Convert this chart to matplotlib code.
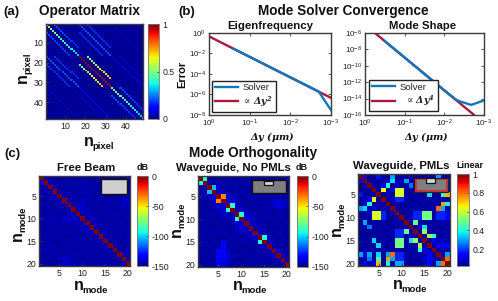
import numpy as np
import matplotlib
matplotlib.use("Agg")
import matplotlib.pyplot as plt
from matplotlib.patches import Rectangle

plt.rcParams['font.family'] = ['Liberation Sans', 'DejaVu Sans']
plt.rcParams['mathtext.fontset'] = 'custom'
plt.rcParams['mathtext.rm'] = 'Liberation Sans'
plt.rcParams['mathtext.bf'] = 'Liberation Sans:bold'
plt.rcParams['mathtext.it'] = 'Liberation Sans:italic'
plt.rcParams['axes.unicode_minus'] = False

W, H = 498, 301
DARK = '#3a3a3a'
BLUE = '#0e76bd'
RED = '#a8193a'

# (a) operator matrix: diagonal bands as (offset, first row, last row, first value, last value)
n_pixel = 48
op_bands = [
    (0, 1, 16, 0.55, 0.32),
    (0, 17, 32, 1.00, 0.95),
    (0, 33, 48, 0.55, 0.30),
    (4, 17, 28, 0.48, 0.72),
    (-4, 21, 32, 0.48, 0.72),
    (4, 1, 12, 0.20, 0.17),
    (-4, 5, 16, 0.20, 0.17),
    (4, 33, 44, 0.20, 0.17),
    (-4, 37, 48, 0.20, 0.17),
    (16, 1, 16, 0.20, 0.20),
    (-16, 17, 32, 0.20, 0.20),
    (20, 1, 12, 0.17, 0.17),
    (-20, 21, 32, 0.17, 0.17),
    (12, 5, 16, 0.17, 0.17),
    (-12, 17, 28, 0.17, 0.17),
    (16, 17, 32, 0.08, 0.08),
    (-16, 33, 48, 0.08, 0.08),
    (20, 17, 28, 0.06, 0.06),
    (-20, 37, 48, 0.06, 0.06),
    (32, 1, 16, 0.05, 0.05),
    (-32, 33, 48, 0.05, 0.05),
]

# (b) convergence curves
ef_ref_dy = [1, 1e-3]
ef_ref_err = [0.47, 4.7e-7]
ef_dy = [0.25, 0.1, 0.05, 0.025, 0.01, 0.005, 0.002, 0.001]
ef_err = [0.029, 4.7e-3, 1.18e-3, 2.9e-4, 4.7e-5, 1.2e-5, 1.9e-6, 3e-8]

ms_ref_dy = [0.56, 0.00182]
ms_ref_err = [1e-6, 1.1e-16]
ms_dy = [0.316, 0.1, 0.05, 0.025, 0.01, 0.005, 0.004, 0.0021, 0.001]
ms_err = [1e-7, 1e-9, 6.25e-11, 3.9e-12, 1e-13, 7e-15, 4.5e-15, 1.7e-15, 6e-15]

# (c) mode orthogonality
free_beam_bg = [
    [0, -142, -145, -144, -146, -145, -144, -146, -145, -144, -145, -146, -145, -144, -146, -145, -144, -146, -145, -144],
    [-142, 0, -144, -143, -145, -146, -143, -145, -143, -145, -144, -145, -146, -145, -144, -146, -143, -145, -146, -145],
    [-145, -144, 0, -144, -146, -143, -146, -144, -146, -143, -145, -146, -144, -146, -145, -143, -146, -144, -145, -146],
    [-144, -143, -144, 0, -143, -145, -144, -146, -144, -142, -144, -143, -145, -144, -146, -145, -144, -143, -145, -144],
    [-146, -145, -146, -143, 0, -144, -146, -143, -145, -146, -143, -145, -146, -143, -145, -146, -144, -146, -143, -145],
    [-145, -146, -143, -145, -144, 0, -143, -145, -146, -141, -144, -146, -143, -145, -144, -143, -146, -145, -140, -141],
    [-144, -143, -146, -144, -146, -143, 0, -144, -141, -140, -143, -145, -144, -146, -143, -145, -144, -143, -141, -142],
    [-146, -145, -144, -146, -143, -145, -144, 0, -143, -141, -142, -144, -146, -143, -145, -144, -146, -145, -143, -144],
    [-145, -143, -146, -144, -145, -146, -141, -143, 0, -144, -142, -143, -145, -144, -146, -143, -145, -144, -146, -143],
    [-144, -145, -143, -142, -146, -141, -140, -141, -144, 0, -143, -141, -144, -146, -143, -145, -144, -146, -145, -144],
    [-145, -144, -145, -144, -143, -144, -143, -142, -142, -143, 0, -144, -142, -145, -144, -146, -143, -145, -144, -146],
    [-146, -145, -146, -143, -145, -146, -145, -144, -143, -141, -144, 0, -143, -146, -145, -144, -146, -143, -145, -144],
    [-145, -146, -144, -145, -146, -143, -144, -146, -145, -144, -142, -143, 0, -144, -143, -145, -144, -146, -143, -145],
    [-144, -145, -146, -144, -143, -145, -146, -143, -144, -146, -145, -146, -144, 0, -144, -143, -145, -144, -146, -143],
    [-146, -144, -145, -146, -145, -144, -143, -145, -146, -143, -144, -145, -143, -144, 0, -145, -143, -146, -144, -145],
    [-145, -146, -143, -145, -146, -143, -145, -144, -143, -145, -146, -144, -145, -143, -145, 0, -144, -145, -146, -143],
    [-144, -143, -146, -144, -144, -146, -144, -146, -145, -144, -143, -146, -144, -145, -143, -144, 0, -146, -145, -144],
    [-146, -145, -144, -143, -146, -145, -143, -145, -144, -146, -145, -143, -146, -144, -146, -145, -146, 0, -144, -145],
    [-145, -146, -145, -145, -143, -140, -141, -143, -146, -145, -144, -145, -143, -146, -144, -146, -145, -144, 0, -143],
    [-144, -145, -146, -144, -145, -141, -142, -144, -143, -144, -146, -144, -145, -143, -145, -143, -144, -145, -143, 0],
]

waveguide_bg = [
    [0, -90, -146, -145, -144, -146, -143, -146, -145, -146, -144, -146, -145, -144, -146, -145, -146, -145, -146, -144],
    [-90, 0, -145, -146, -143, -145, -146, -144, -146, -145, -146, -144, -146, -145, -144, -146, -145, -146, -145, -146],
    [-146, -145, 0, -103, -142, -144, -146, -145, -143, -146, -145, -146, -144, -146, -145, -143, -146, -145, -144, -146],
    [-145, -146, -103, 0, -140, -141, -144, -146, -145, -144, -146, -145, -146, -144, -145, -146, -144, -145, -146, -145],
    [-144, -143, -142, -140, 0, -35, -139, -141, -144, -146, -145, -143, -145, -146, -144, -145, -146, -144, -145, -146],
    [-146, -145, -144, -141, -35, 0, -140, -139, -142, -144, -146, -145, -143, -146, -145, -144, -140, -139, -141, -143],
    [-143, -146, -146, -144, -139, -140, 0, -88, -141, -143, -145, -146, -144, -146, -143, -145, -141, -138, -140, -142],
    [-146, -144, -145, -146, -141, -139, -88, 0, -143, -141, -144, -145, -146, -143, -145, -144, -146, -143, -145, -146],
    [-145, -146, -143, -145, -144, -142, -141, -143, 0, -92, -141, -140, -143, -145, -146, -144, -146, -145, -144, -146],
    [-146, -145, -146, -144, -146, -144, -143, -141, -92, 0, -140, -139, -142, -146, -144, -145, -146, -144, -146, -145],
    [-144, -146, -145, -146, -145, -146, -145, -144, -141, -140, 0, -141, -144, -143, -145, -146, -144, -146, -145, -144],
    [-146, -144, -146, -145, -143, -145, -146, -145, -140, -139, -141, 0, -142, -141, -144, -145, -146, -145, -144, -146],
    [-145, -146, -144, -146, -145, -143, -144, -146, -143, -142, -144, -142, 0, -141, -143, -146, -145, -144, -146, -145],
    [-144, -145, -146, -144, -146, -146, -146, -143, -145, -146, -143, -141, -141, 0, -92, -142, -145, -146, -144, -146],
    [-146, -144, -145, -145, -144, -136, -143, -145, -146, -144, -145, -144, -143, -92, 0, -141, -143, -145, -146, -144],
    [-145, -146, -143, -146, -145, -134, -145, -144, -144, -145, -146, -145, -146, -142, -141, 0, -142, -144, -145, -146],
    [-146, -145, -146, -144, -133, -133, -141, -146, -146, -146, -144, -146, -145, -145, -143, -142, 0, -141, -144, -145],
    [-145, -146, -145, -145, -133, -134, -138, -143, -145, -144, -146, -145, -144, -146, -145, -144, -141, 0, -143, -144],
    [-146, -145, -144, -146, -134, -136, -140, -145, -146, -146, -145, -144, -146, -144, -146, -145, -144, -143, 0, -142],
    [-144, -146, -146, -145, -136, -138, -142, -146, -145, -144, -146, -145, -144, -146, -144, -146, -145, -144, -142, 0],
]

pml_overlap = [
    [1.00, .10, .03, .04, .16, .05, .04, .30, .04, .05, .04, .06, .03, .05, .04, .06, .04, .30, .06, .04],
    [.10, 1.00, .06, .05, .04, .06, .10, .35, .05, .06, .30, .05, .04, .03, .05, .04, .06, .10, .05, .15],
    [.03, .06, 1.00, .04, .05, .12, .40, .05, .10, .05, .04, .25, .05, .04, .06, .05, .04, .05, .25, .06],
    [.04, .05, .04, 1.00, .06, .65, .04, .10, .62, .62, .05, .06, .04, .05, .35, .05, .06, .04, .05, .10],
    [.16, .04, .05, .06, 1.00, .05, .06, .04, .62, .62, .05, .04, .06, .05, .04, .35, .05, .05, .42, .72],
    [.05, .06, .12, .65, .05, 1.00, .05, .06, .18, .18, .06, .05, .04, .06, .05, .04, .06, .04, .05, .06],
    [.04, .10, .40, .04, .06, .05, 1.00, .05, .04, .05, .04, .06, .05, .04, .06, .05, .04, .06, .75, .40],
    [.30, .35, .05, .10, .04, .06, .05, 1.00, .06, .04, .05, .04, .06, .05, .04, .06, .05, .80, .30, .05],
    [.04, .05, .10, .62, .62, .18, .04, .06, 1.00, .05, .06, .05, .18, .18, .50, .50, .06, .18, .18, .12],
    [.05, .06, .05, .62, .62, .18, .05, .04, .05, 1.00, .05, .06, .18, .18, .50, .50, .05, .18, .18, .14],
    [.04, .30, .04, .05, .05, .06, .04, .05, .06, .05, 1.00, .06, .48, .05, .05, .06, .04, .05, .06, .05],
    [.06, .05, .25, .06, .04, .05, .06, .04, .05, .06, .06, 1.00, .06, .10, .36, .05, .06, .04, .05, .04],
    [.03, .04, .05, .04, .06, .04, .05, .06, .18, .18, .48, .06, 1.00, .05, .55, .06, .04, .06, .05, .06],
    [.05, .03, .04, .05, .05, .06, .04, .05, .18, .18, .05, .10, .05, 1.00, .06, .55, .42, .05, .06, .04],
    [.04, .05, .06, .35, .04, .05, .06, .04, .50, .50, .05, .36, .55, .06, 1.00, .05, .14, .05, .10, .05],
    [.06, .04, .05, .05, .35, .04, .05, .06, .50, .50, .06, .05, .06, .55, .05, 1.00, .06, .14, .14, .14],
    [.04, .06, .04, .06, .05, .06, .04, .05, .06, .05, .04, .06, .04, .42, .14, .06, 1.00, .05, .06, .05],
    [.30, .10, .30, .04, .35, .04, .30, .80, .18, .18, .05, .04, .06, .05, .05, .14, .05, 1.00, .06, .30],
    [.06, .05, .25, .05, .45, .05, .75, .30, .18, .18, .06, .05, .05, .06, .10, .14, .06, .06, 1.00, .80],
    [.04, .15, .06, .10, .72, .06, .40, .05, .30, .30, .05, .04, .06, .04, .05, .14, .05, .30, .80, 1.00],
]

op_ticks = [10, 20, 30, 40]
mode_ticks = [5, 10, 15, 20]
ef_yticks = [1e0, 1e-2, 1e-4, 1e-6, 1e-8]
ms_yticks = [1e-6, 1e-8, 1e-10, 1e-12, 1e-14, 1e-16]
dy_ticks = [1e0, 1e-1, 1e-2, 1e-3]


def px_axes(fig, x0, y0, x1, y1):
    # box given in image pixels, y down
    return fig.add_axes([x0 / W, 1 - y1 / H, (x1 - x0) / W, (y1 - y0) / H])


def px_text(fig, x, y, s, size, weight='bold', rotation=0, **kw):
    return fig.text(x / W, 1 - y / H, s, fontsize=size, fontweight=weight, rotation=rotation,
                    ha='center', va='center', color='#111111', **kw)


def n_label(fig, x, y, sub, rotation=0):
    # big n with a small subscript, x,y = start of the n on its baseline
    kw = dict(fontweight='bold', color='#111111', ha='left', va='baseline', rotation=rotation,
              rotation_mode='anchor')
    fig.text(x / W, 1 - y / H, 'n', fontsize=11.5, **kw)
    if rotation == 0:
        fig.text((x + 8.5) / W, 1 - (y + 3) / H, sub, fontsize=6.8, **kw)
    else:
        fig.text((x + 3) / W, 1 - (y - 8.5) / H, sub, fontsize=6.8, **kw)


def px_rect(fig, x0, y0, x1, y1, face, edge, lw=1.0):
    r = Rectangle((x0 / W, 1 - y1 / H), (x1 - x0) / W, (y1 - y0) / H, transform=fig.transFigure,
                  facecolor=face, edgecolor=edge, linewidth=lw, zorder=10)
    fig.add_artist(r)


def style_axes(ax, size=6.3):
    for s in ax.spines.values():
        s.set_color(DARK)
        s.set_linewidth(1.0)
    ax.tick_params(which='both', direction='in', length=2, width=0.6, color=DARK,
                   labelcolor='#222222', labelsize=size, pad=2)


def heat(fig, box, cbox, data, vmin, vmax, ticks, tick_fmt):
    ax = px_axes(fig, *box)
    n = len(data)
    im = ax.imshow(data, cmap='jet', vmin=vmin, vmax=vmax, interpolation='nearest',
                   extent=(0.5, n + 0.5, n + 0.5, 0.5), aspect='auto')
    style_axes(ax)
    cax = px_axes(fig, *cbox)
    cb = fig.colorbar(im, cax=cax)
    cb.set_ticks(ticks)
    cb.set_ticklabels(tick_fmt)
    cb.outline.set_edgecolor('#777777')
    cb.outline.set_linewidth(0.6)
    cax.tick_params(direction='in', length=1.5, width=0.5, color=DARK, labelsize=6.3,
                    labelcolor='#222222', pad=2.5)
    return ax


fig = plt.figure(figsize=(W / 100, H / 100), dpi=100)

# (a)
op_matrix = np.full((n_pixel, n_pixel), 0.02)
for off, r0, r1, v0, v1 in op_bands:
    rows = np.arange(r0, r1 + 1)
    op_matrix[rows - 1, rows - 1 + off] = np.linspace(v0, v1, len(rows))
ax = heat(fig, (46, 24, 143, 119), (148, 24, 159, 119), op_matrix, 0, 1, [0, 0.5, 1], ['0', '0.5', '1'])
ax.set_xticks(op_ticks)
ax.set_yticks(op_ticks)

# (b)
for box, ref_x, ref_y, sol_x, sol_y, yt, ylim, leg_pos, lab in [
    ((209, 33, 331, 115), ef_ref_dy, ef_ref_err, ef_dy, ef_err, ef_yticks, (1e-8, 1e0),
     (0.025, 0.04), r'$\propto\,\mathbfit{\Delta y^2}$'),
    ((365, 33, 484, 115), ms_ref_dy, ms_ref_err, ms_dy, ms_err, ms_yticks, (1e-16, 1e-6),
     (0.035, 0.05), r'  $\propto\,\mathbfit{\Delta y^4}$'),
]:
    ax = px_axes(fig, *box)
    ax.plot(sol_x, sol_y, color=BLUE, lw=1.7, label='Solver', zorder=3)
    ax.plot(ref_x, ref_y, color=RED, lw=1.7, label=lab, zorder=2)
    ax.set_xscale('log')
    ax.set_yscale('log')
    ax.set_xlim(1, 1e-3)
    ax.set_ylim(*ylim)
    ax.set_xticks(dy_ticks)
    ax.set_yticks(yt)
    ax.minorticks_off()
    style_axes(ax, 5.8)
    ax.tick_params(top=True, right=True)
    leg = ax.legend(loc='lower left', bbox_to_anchor=leg_pos, fontsize=6.8, frameon=True,
                    fancybox=False, framealpha=1, edgecolor='#222222', borderaxespad=0,
                    handlelength=2.45, handletextpad=0.45, labelspacing=0.2, borderpad=0.3)
    leg.get_frame().set_linewidth(1.0)
    for t in leg.get_texts():
        t.set_math_fontfamily('dejavuserif')
        t.set_color('#222222')

# (c)
free_beam = np.array(free_beam_bg, dtype=float)
waveguide = np.array(waveguide_bg, dtype=float)
pml = np.array(pml_overlap)

db_ticks = [0, -50, -100, -150]
db_labels = ['0', '-50', '-100', '-150']
lin_ticks = [0.2, 0.4, 0.6, 0.8, 1]
lin_labels = ['0.2', '0.4', '0.6', '0.8', '1']

for box, cbox, data, vmin, vmax, t, tl in [
    ((39, 176, 130, 266), (137, 176, 148, 266), free_beam, -150, 0, db_ticks, db_labels),
    ((198, 176, 289, 267), (297, 176, 308, 267), waveguide, -150, 0, db_ticks, db_labels),
    ((358, 174, 450, 266), (457, 174, 469, 266), pml, 0.02, 1, lin_ticks, lin_labels),
]:
    ax = heat(fig, box, cbox, data, vmin, vmax, t, tl)
    ax.set_xticks(mode_ticks)
    ax.set_yticks(mode_ticks)

# geometry insets
px_rect(fig, 101, 179, 127, 194, '#cfcfcf', '#111111', 1.0)
px_rect(fig, 252, 180, 286, 193, '#7f7f7f', '#111111', 1.0)
px_rect(fig, 264, 181, 273, 185, '#d8d8d8', '#111111', 0.9)
px_rect(fig, 414, 178, 448, 192, '#c8323a', '#222222', 0.8)
px_rect(fig, 417, 180, 446, 190, '#7f7f7f', 'none', 0)
px_rect(fig, 426, 178, 435, 183, '#d8d8d8', '#111111', 0.9)

# text
px_text(fig, 11, 12, '(a)', 9.5)
px_text(fig, 187, 12, '(b)', 9.5)
px_text(fig, 12, 154, '(c)', 9.5)
px_text(fig, 89, 11, 'Operator Matrix', 9.8)
px_text(fig, 343, 11, 'Mode Solver Convergence', 9.8)
px_text(fig, 270, 26, 'Eigenfrequency', 8.2)
px_text(fig, 423, 26, 'Mode Shape', 8.2)
px_text(fig, 253, 153, 'Mode Orthogonality', 9.8)
px_text(fig, 86, 168, 'Free Beam', 8.2)
px_text(fig, 233, 168, 'Waveguide, No PMLs', 8.2)
px_text(fig, 401, 166, 'Waveguide, PMLs', 8.2)
px_text(fig, 143, 168, 'dB', 6.5)
px_text(fig, 302, 168, 'dB', 6.5)
px_text(fig, 470, 166, 'Linear', 6.5)
px_text(fig, 182, 74, 'Error', 8, rotation=90)

n_label(fig, 84, 146, 'pixel')
n_label(fig, 27, 83, 'pixel', rotation=90)
n_label(fig, 74, 290, 'mode')
n_label(fig, 22, 241, 'mode', rotation=90)
n_label(fig, 233, 290, 'mode')
n_label(fig, 181, 237, 'mode', rotation=90)
n_label(fig, 393, 289, 'mode')
n_label(fig, 341, 236, 'mode', rotation=90)

dy_label = r'$\mathbfit{\Delta y\ (\mu m)}$'
px_text(fig, 272, 137, dy_label, 7, math_fontfamily='dejavuserif')
px_text(fig, 426, 137, dy_label, 7, math_fontfamily='dejavuserif')

fig.savefig('out.png', dpi=100)
